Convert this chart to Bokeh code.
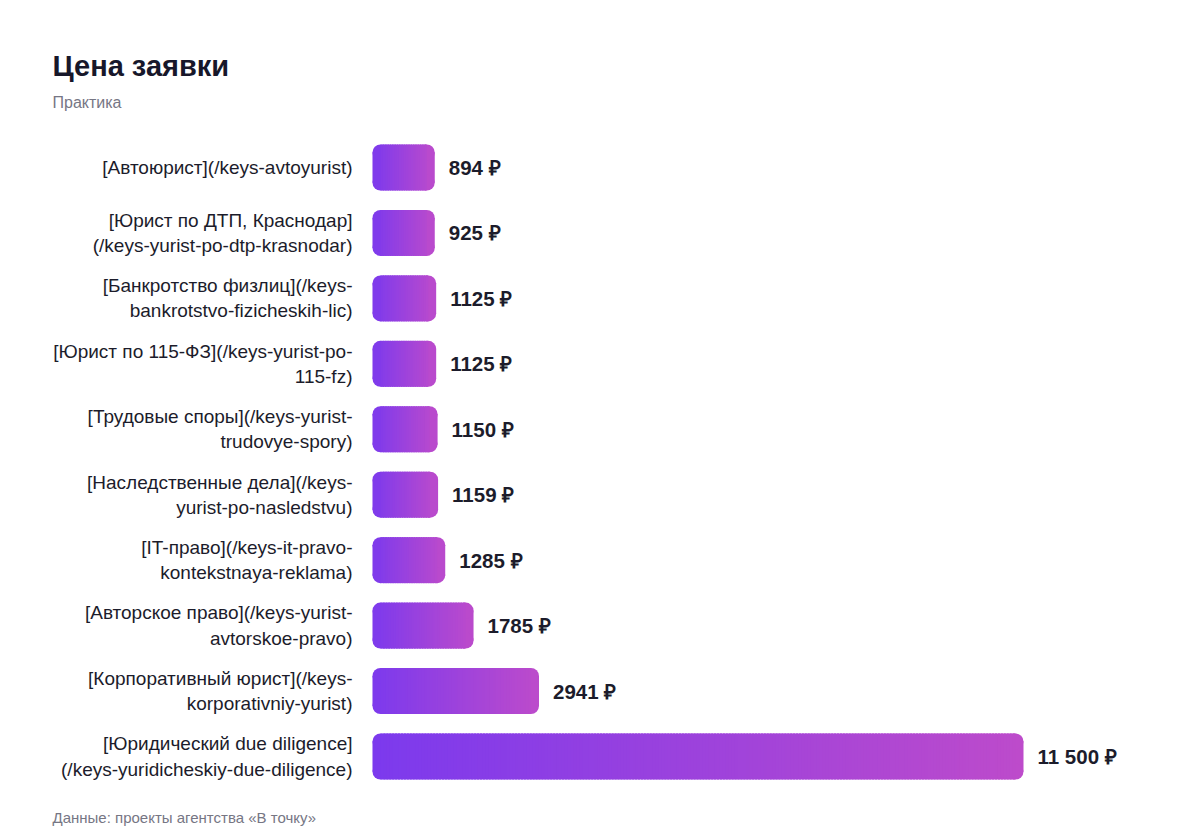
#bokeh horizontal bar chart: Цена заявки

from bokeh.plotting import figure
from bokeh.models import Range1d, Label
from bokeh.core.properties import value
from bokeh.embed import file_html
from bokeh.resources import INLINE

#data
categories = [
    "[Автоюрист](/keys-avtoyurist)",
    "[Юрист по ДТП, Краснодар]\n(/keys-yurist-po-dtp-krasnodar)",
    "[Банкротство физлиц](/keys-\nbankrotstvo-fizicheskih-lic)",
    "[Юрист по 115-ФЗ](/keys-yurist-po-\n115-fz)",
    "[Трудовые споры](/keys-yurist-\ntrudovye-spory)",
    "[Наследственные дела](/keys-\nyurist-po-nasledstvu)",
    "[IT-право](/keys-it-pravo-\nkontekstnaya-reklama)",
    "[Авторское право](/keys-yurist-\navtorskoe-pravo)",
    "[Корпоративный юрист](/keys-\nkorporativniy-yurist)",
    "[Юридический due diligence]\n(/keys-yuridicheskiy-due-diligence)",
]
prices = [894, 925, 1125, 1125, 1150, 1159, 1285, 1785, 2941, 11500]

title_text = "Цена заявки"
subtitle_text = "Практика"
footer_text = "Данные: проекты агентства «В точку»"

#shortest bars are drawn with a minimum length
min_shown = 1100
shown = [max(v, min_shown) for v in prices]
#first category on top
rows = [len(prices) - 1 - i for i in range(len(prices))]


def fmt(v):
    if v >= 10000:
        return f"{v:,}".replace(",", " ") + " ₽"
    return f"{v} ₽"


#gradient colours (left -> right)
c0 = (124, 58, 237)
c1 = (189, 75, 203)


def mix(t):
    return "#%02x%02x%02x" % tuple(int(round(a + (b - a) * t)) for a, b in zip(c0, c1))


FONT = "Liberation Sans"
W, H = 1184, 836
x0, x1 = -6571, 14344
y0, y1 = -1.223, 11.552
rad = 8  # corner radius, px
rx = rad * (x1 - x0) / W
ry = rad * (y1 - y0) / H
bar_h = 0.703

p = figure(width=W, height=H, output_backend="svg", toolbar_location=None,
           x_range=Range1d(x0, x1), y_range=Range1d(y0, y1),
           min_border=0, min_border_left=0, min_border_right=0,
           min_border_top=0, min_border_bottom=0)
p.axis.visible = False
p.grid.visible = False
p.outline_line_color = None
p.background_fill_color = "white"
p.border_fill_color = "white"

#gradient bars: rounded caps (rect + corner circles) and thin slices between
ys, lefts, rights, cols = [], [], [], []
for r, s in zip(rows, shown):
    inner = s - 2 * rx
    n = max(12, int(s * W / (x1 - x0) / 3))
    for k in range(n):
        a = rx + inner * k / n
        b = rx + inner * (k + 1) / n
        ys.append(r)
        lefts.append(a)
        rights.append(b + inner / n * 0.7 if k < n - 1 else b)
        cols.append(mix((a + b) / 2 / s))

cy = [r + d for r in rows for d in (bar_h / 2 - ry, -(bar_h / 2 - ry))]
left_cx = [rx for r in rows for d in (0, 1)]
right_cx = [s - rx for s in shown for d in (0, 1)]
left_col = [mix(rx / 2 / s) for s in shown]
right_col = [mix(1 - rx / 2 / s) for s in shown]

#left cap
p.hbar(y=rows, left=0, right=[rx * 1.5] * len(rows), height=bar_h - 2 * ry,
       fill_color=left_col, line_color=None)
p.circle(x=left_cx, y=cy, radius=rad, radius_units="screen",
         fill_color=[c for c in left_col for d in (0, 1)], line_color=None)
#right cap
p.hbar(y=rows, left=[s - rx * 1.5 for s in shown], right=shown, height=bar_h - 2 * ry,
       fill_color=right_col, line_color=None)
p.circle(x=right_cx, y=cy, radius=rad, radius_units="screen",
         fill_color=[c for c in right_col for d in (0, 1)], line_color=None)
#slices on top
p.hbar(y=ys, left=lefts, right=rights, height=bar_h, fill_color=cols, line_color=None)

#category labels
p.text(x=[0] * len(rows), y=rows, text=categories, x_offset=-20,
       text_align="right", text_baseline="middle", text_line_height=1.2,
       text_font=value(FONT), text_font_size="19px", text_color="#1c1c2b")

#value labels
p.text(x=shown, y=rows, text=[fmt(v) for v in prices], x_offset=14,
       text_align="left", text_baseline="middle",
       text_font=value(FONT), text_font_style="bold", text_font_size="20.5px",
       text_color="#1c1c2b")

#title, subtitle, footer
p.add_layout(Label(x=52, y=H - 65, x_units="screen", y_units="screen",
                   text=title_text, text_font=FONT, text_font_style="bold",
                   text_font_size="29px", text_color="#17172a",
                   text_baseline="middle"))
p.add_layout(Label(x=52, y=H - 102, x_units="screen", y_units="screen",
                   text=subtitle_text, text_font=FONT,
                   text_font_size="16px", text_color="#767684",
                   text_baseline="middle"))
p.add_layout(Label(x=52, y=H - 817, x_units="screen", y_units="screen",
                   text=footer_text, text_font=FONT,
                   text_font_size="15px", text_color="#767684",
                   text_baseline="middle"))

open("out.html", "w").write(file_html(p, INLINE))
